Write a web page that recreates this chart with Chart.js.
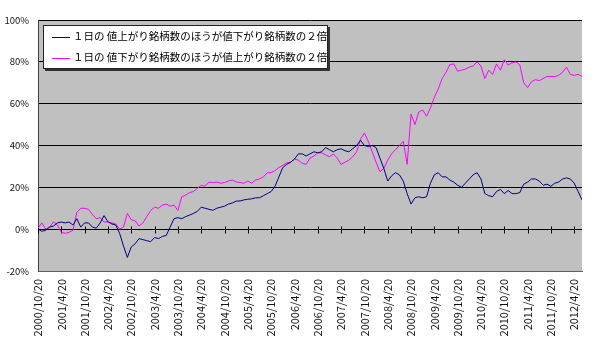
<!DOCTYPE html>
<html>
<head>
<meta charset="utf-8">
<script src="https://cdn.jsdelivr.net/npm/chart.js@4.4.1/dist/chart.umd.min.js"></script>
<style>
  html, body { margin: 0; padding: 0; background: #fff; }
  #wrap { width: 600px; height: 351px; }
</style>
</head>
<body>
<div id="wrap"><canvas id="myChart" width="600" height="351"></canvas></div>
<script>
// tick labels every 6 months (x = months since 2000/10/20)
const dateLabels = ['2000/10/20', '2001/4/20', '2001/10/20', '2002/4/20', '2002/10/20', '2003/4/20',
  '2003/10/20', '2004/4/20', '2004/10/20', '2005/4/20', '2005/10/20', '2006/4/20',
  '2006/10/20', '2007/4/20', '2007/10/20', '2008/4/20', '2008/10/20', '2009/4/20',
  '2009/10/20', '2010/4/20', '2010/10/20', '2011/4/20', '2011/10/20', '2012/4/20']
const monthsPerLabel = 6

const seriesNames = ['１日の 値上がり銘柄数のほうが値下がり銘柄数の２倍', '１日の 値下がり銘柄数のほうが値上がり銘柄数の２倍']
const seriesColors = ['#000080', '#ff00ff']

// monthly readings (%), first value = 2000/10/20
const upSeries = [0, -1, -0.5, 1, 1.5, 3, 3.4, 3, 3.4, 2,
  5, 1, 3, 3, 1, 0.5, 3, 6.5, 3.5, 2.5,
  2, -2, -8, -13.5, -8.5, -7, -4.5, -5, -5.5, -6,
  -4, -4.5, -3.5, -3, 1, 5, 5.5, 5, 6, 6.7,
  7.5, 8.5, 10.5, 10, 9.5, 9, 10, 10.5, 11, 12,
  12.5, 13.4, 13.5, 14, 14.3, 14.5, 15, 15, 16, 17,
  18, 20.5, 25, 29.5, 31, 32, 33.5, 36, 36, 35,
  36, 37, 36.5, 37, 39, 38, 37, 38, 38.4, 37.5,
  37, 38.5, 40, 42.5, 40, 39.5, 40, 39, 34, 29,
  23, 25.5, 27, 26, 23, 17, 12, 15, 15.5, 15,
  15.5, 22, 26, 27, 25, 25, 23.5, 22.5, 21, 20,
  22, 24, 26, 27, 24, 17, 16, 15.5, 18, 19,
  17, 18.5, 17, 17, 17.5, 21.5, 22.5, 24, 24, 23,
  21, 21.5, 20.5, 22, 22.5, 24, 24.5, 24, 22, 18,
  14]
const downSeries = [0.5, 3, 0, 1, 3.5, 2, -1.5, -2, -1.5, -0.5,
  8, 10, 10, 9.5, 7, 5, 5.5, 3.4, 3.5, 3,
  2.5, 0, 1, 7.5, 4.5, 4, 1.5, 3, 6, 9,
  10.5, 10, 11.5, 12, 11, 11.5, 9, 15.5, 16.3, 17.5,
  18, 19.5, 21, 20.5, 22.5, 22.3, 22.5, 22, 22.3, 23,
  23.5, 22.6, 22.3, 22, 23, 22, 23.5, 24, 25, 27,
  27, 28, 29.5, 30.5, 31.7, 32, 33.5, 33, 31.5, 31,
  34, 35, 36.5, 36.5, 35.5, 34.6, 36, 34, 31, 32,
  33, 34.6, 37, 43, 46, 42, 37, 32, 27.5, 29,
  33, 36, 38, 40, 42, 31, 55, 50, 56, 57,
  54, 58, 63, 67, 72, 75, 78.7, 79, 75.5, 76,
  76.5, 77.5, 78, 80, 78, 72, 76, 74, 79, 76,
  81, 78.5, 79.5, 80, 78.5, 70, 67.7, 70.5, 71.5, 71,
  72, 73, 73, 73, 73.5, 75, 77.5, 74, 73.5, 74,
  73]

const fontFamily = "'Noto Sans CJK JP', 'DejaVu Sans', sans-serif"

// gray plot area
const plotBackground = {
  id: 'plotBackground',
  beforeDraw(chart) {
    const { ctx, chartArea: a } = chart
    ctx.save()
    ctx.fillStyle = '#c0c0c0'
    ctx.fillRect(a.left, a.top, a.right - a.left, a.bottom - a.top)
    ctx.restore()
  }
}

// tick marks crossing the 0% line
const zeroTicks = {
  id: 'zeroTicks',
  beforeDatasetsDraw(chart) {
    const { ctx, scales } = chart
    const y0 = Math.round(scales.y.getPixelForValue(0)) + 0.5
    ctx.save()
    ctx.strokeStyle = '#000'
    ctx.lineWidth = 1
    ctx.beginPath()
    dateLabels.forEach((d, i) => {
      const x = Math.round(scales.x.getPixelForValue(i * monthsPerLabel)) + 0.5
      ctx.moveTo(x, y0 - 3)
      ctx.lineTo(x, y0 + 4)
    })
    ctx.stroke()
    ctx.restore()
  }
}

// legend box in the upper left, with shadow
const boxLegend = {
  id: 'boxLegend',
  afterDraw(chart) {
    const { ctx } = chart
    const x = 43, y = 25, w = 285, h = 44
    ctx.save()
    ctx.fillStyle = '#333'
    ctx.fillRect(x + 2, y + 2, w, h)
    ctx.fillStyle = '#fff'
    ctx.fillRect(x, y, w, h)
    ctx.strokeStyle = '#222'
    ctx.lineWidth = 1
    ctx.strokeRect(x + 0.5, y + 0.5, w - 1, h - 1)
    ctx.font = '10.5px ' + fontFamily
    ctx.textBaseline = 'middle'
    seriesNames.forEach((name, i) => {
      const ly = y + 11.5 + i * 21
      ctx.strokeStyle = seriesColors[i]
      ctx.beginPath()
      ctx.moveTo(x + 9, Math.round(ly) + 0.5)
      ctx.lineTo(x + 27, Math.round(ly) + 0.5)
      ctx.stroke()
      ctx.fillStyle = '#000'
      ctx.fillText(name, x + 30, ly)
    })
    ctx.restore()
  }
}

const ctx = document.getElementById('myChart').getContext('2d')
const myChart = new Chart(ctx, {
  type: 'line',
  data: {
    datasets: [
      {
        label: seriesNames[0],
        data: upSeries.map((v, i) => ({ x: i, y: v })),
        borderColor: seriesColors[0],
        borderWidth: 1,
        pointRadius: 0,
        tension: 0
      },
      {
        label: seriesNames[1],
        data: downSeries.map((v, i) => ({ x: i, y: v })),
        borderColor: seriesColors[1],
        borderWidth: 1,
        pointRadius: 0,
        tension: 0
      }
    ]
  },
  options: {
    responsive: false,
    animation: false,
    layout: { padding: { left: 0, top: 20, right: 18, bottom: 0 } },
    plugins: {
      legend: { display: false },
      tooltip: { enabled: false }
    },
    scales: {
      x: {
        type: 'linear',
        min: 0,
        max: upSeries.length - 1,
        afterBuildTicks(scale) {
          scale.ticks = dateLabels.map((d, i) => ({ value: i * monthsPerLabel }))
        },
        afterFit(scale) { scale.height = 80 },
        grid: { display: false, drawTicks: false },
        border: { display: true, color: '#606060' },
        ticks: {
          autoSkip: false,
          maxRotation: 90,
          minRotation: 90,
          padding: 8,
          color: '#111',
          font: { family: fontFamily, size: 11 },
          callback: (v) => dateLabels[v / monthsPerLabel]
        }
      },
      y: {
        min: -20,
        max: 100,
        afterFit(scale) { scale.width = 38 },
        grid: { color: '#000', lineWidth: 1, drawTicks: false },
        border: { display: true, color: '#404040' },
        ticks: {
          stepSize: 20,
          padding: 9,
          color: '#111',
          font: { family: fontFamily, size: 9.5 },
          callback: (v) => v + '%'
        }
      }
    }
  },
  plugins: [plotBackground, zeroTicks, boxLegend]
})
</script>
</body>
</html>
